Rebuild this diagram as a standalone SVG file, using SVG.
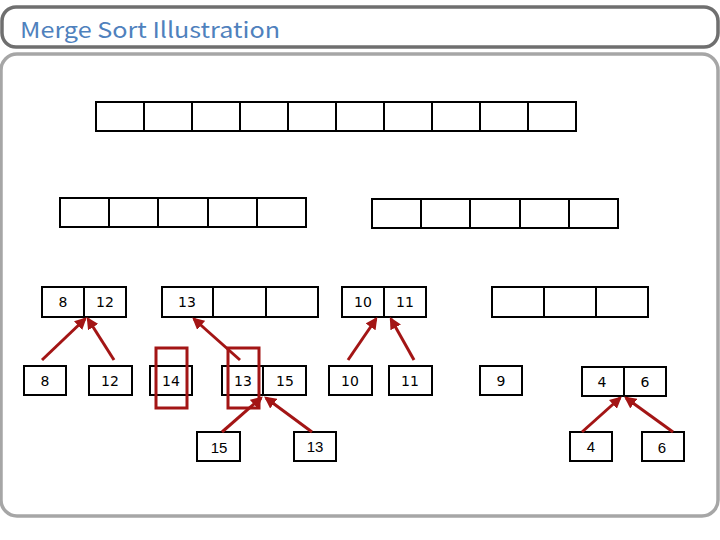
<svg xmlns="http://www.w3.org/2000/svg" width="720" height="540" viewBox="0 0 720 540">
<style>
.frame{fill:#fff;stroke:#6f6f6f;stroke-width:3.5}
.panel{fill:#fff;stroke:#a6a6a6;stroke-width:3.5}
.title{font-family:"Noto Sans CJK JP","Liberation Sans",sans-serif;font-size:22px;fill:#4f81bd}
.cell{fill:#fff;stroke:#000;stroke-width:2}
.num{font-family:"DejaVu Sans","Liberation Sans",sans-serif;font-size:14px;fill:#000;text-anchor:middle}
.num2{font-family:"Liberation Sans Narrow","Liberation Sans",sans-serif;font-size:15px;fill:#000;text-anchor:middle}
.arrow{stroke:#a31515;stroke-width:3;fill:none;marker-end:url(#ah)}
.hl{fill:none;stroke:#a31515;stroke-width:3}
</style>
<defs>
<marker id="ah" viewBox="0 0 10 10" refX="8" refY="5" markerWidth="4" markerHeight="4" orient="auto" markerUnits="strokeWidth">
<path d="M0,0 L10,5 L0,10 z" fill="#a31515"/>
</marker>
</defs>
<rect class="frame" x="2" y="7" width="716" height="40" rx="14"/>
<text class="title" x="20" y="38" textLength="260" lengthAdjust="spacingAndGlyphs">Merge Sort Illustration</text>
<rect class="panel" x="1" y="54" width="717" height="462" rx="16"/>

<g id="row1">
<rect class="cell" x="96" y="102" width="48" height="29"/>
<rect class="cell" x="144" y="102" width="48" height="29"/>
<rect class="cell" x="192" y="102" width="48" height="29"/>
<rect class="cell" x="240" y="102" width="48" height="29"/>
<rect class="cell" x="288" y="102" width="48" height="29"/>
<rect class="cell" x="336" y="102" width="48" height="29"/>
<rect class="cell" x="384" y="102" width="48" height="29"/>
<rect class="cell" x="432" y="102" width="48" height="29"/>
<rect class="cell" x="480" y="102" width="48" height="29"/>
<rect class="cell" x="528" y="102" width="48" height="29"/>
</g>
<g id="row2-left">
<rect class="cell" x="60" y="198" width="49" height="29"/>
<rect class="cell" x="109" y="198" width="49" height="29"/>
<rect class="cell" x="158" y="198" width="50" height="29"/>
<rect class="cell" x="208" y="198" width="49" height="29"/>
<rect class="cell" x="257" y="198" width="49" height="29"/>
</g>
<g id="row2-right">
<rect class="cell" x="372" y="199" width="49" height="29"/>
<rect class="cell" x="421" y="199" width="49" height="29"/>
<rect class="cell" x="470" y="199" width="50" height="29"/>
<rect class="cell" x="520" y="199" width="49" height="29"/>
<rect class="cell" x="569" y="199" width="49" height="29"/>
</g>
<g id="r3-8-12">
<rect class="cell" x="42" y="287" width="42" height="30"/>
<rect class="cell" x="84" y="287" width="42" height="30"/>
<text class="num" x="63" y="307">8</text>
<text class="num" x="105" y="307">12</text>
</g>
<g id="r3-13">
<rect class="cell" x="162" y="287" width="51" height="30"/>
<rect class="cell" x="213" y="287" width="53" height="30"/>
<rect class="cell" x="266" y="287" width="52" height="30"/>
<text class="num" x="187" y="307">13</text>
</g>
<g id="r3-10-11">
<rect class="cell" x="342" y="287" width="42" height="30"/>
<rect class="cell" x="384" y="287" width="42" height="30"/>
<text class="num" x="363" y="307">10</text>
<text class="num" x="405" y="307">11</text>
</g>
<g id="r3-empty">
<rect class="cell" x="492" y="287" width="52" height="30"/>
<rect class="cell" x="544" y="287" width="52" height="30"/>
<rect class="cell" x="596" y="287" width="52" height="30"/>
</g>
<g id="r4-8"><rect class="cell" x="24" y="366" width="42" height="29"/><text class="num" x="45" y="386">8</text></g>
<g id="r4-12"><rect class="cell" x="89" y="366" width="43" height="29"/><text class="num" x="110" y="386">12</text></g>
<g id="r4-14"><rect class="cell" x="150" y="366" width="42" height="29"/><text class="num" x="171" y="386">14</text></g>
<g id="r4-13-15">
<rect class="cell" x="222" y="366" width="41" height="29"/>
<rect class="cell" x="263" y="366" width="43" height="29"/>
<text class="num" x="243" y="386">13</text>
<text class="num" x="285" y="386">15</text>
</g>
<g id="r4-10"><rect class="cell" x="329" y="366" width="43" height="29"/><text class="num" x="350" y="386">10</text></g>
<g id="r4-11"><rect class="cell" x="389" y="366" width="43" height="29"/><text class="num" x="410" y="386">11</text></g>
<g id="r4-9"><rect class="cell" x="480" y="366" width="42" height="29"/><text class="num" x="501" y="386">9</text></g>
<g id="r4-4-6">
<rect class="cell" x="582" y="367" width="42" height="29"/>
<rect class="cell" x="624" y="367" width="42" height="29"/>
<text class="num" x="602" y="387">4</text>
<text class="num" x="645" y="387">6</text>
</g>
<g id="r5-15"><rect class="cell" x="197" y="432" width="43" height="29"/><text class="num2" x="219" y="453">15</text></g>
<g id="r5-13"><rect class="cell" x="294" y="432" width="42" height="29"/><text class="num2" x="315" y="452">13</text></g>
<g id="r5-4"><rect class="cell" x="570" y="432" width="42" height="29"/><text class="num2" x="591" y="452">4</text></g>
<g id="r5-6"><rect class="cell" x="642" y="432" width="42" height="29"/><text class="num2" x="662" y="453">6</text></g>

<g id="highlights">
<rect class="hl" x="156" y="348" width="31" height="60"/>
<rect class="hl" x="228" y="348" width="31" height="60"/>
</g>

<g id="connectors">
<line class="arrow" x1="42" y1="360" x2="85" y2="319"/>
<line class="arrow" x1="114" y1="360" x2="88" y2="319"/>
<line class="arrow" x1="240" y1="360" x2="194" y2="319"/>
<line class="arrow" x1="348" y1="360" x2="376" y2="319"/>
<line class="arrow" x1="414" y1="360" x2="391" y2="319"/>
<line class="arrow" x1="222" y1="432" x2="261" y2="398"/>
<line class="arrow" x1="312" y1="432" x2="266" y2="398"/>
<line class="arrow" x1="582" y1="432" x2="620" y2="398"/>
<line class="arrow" x1="673" y1="432" x2="626" y2="398"/>
</g>
</svg>
